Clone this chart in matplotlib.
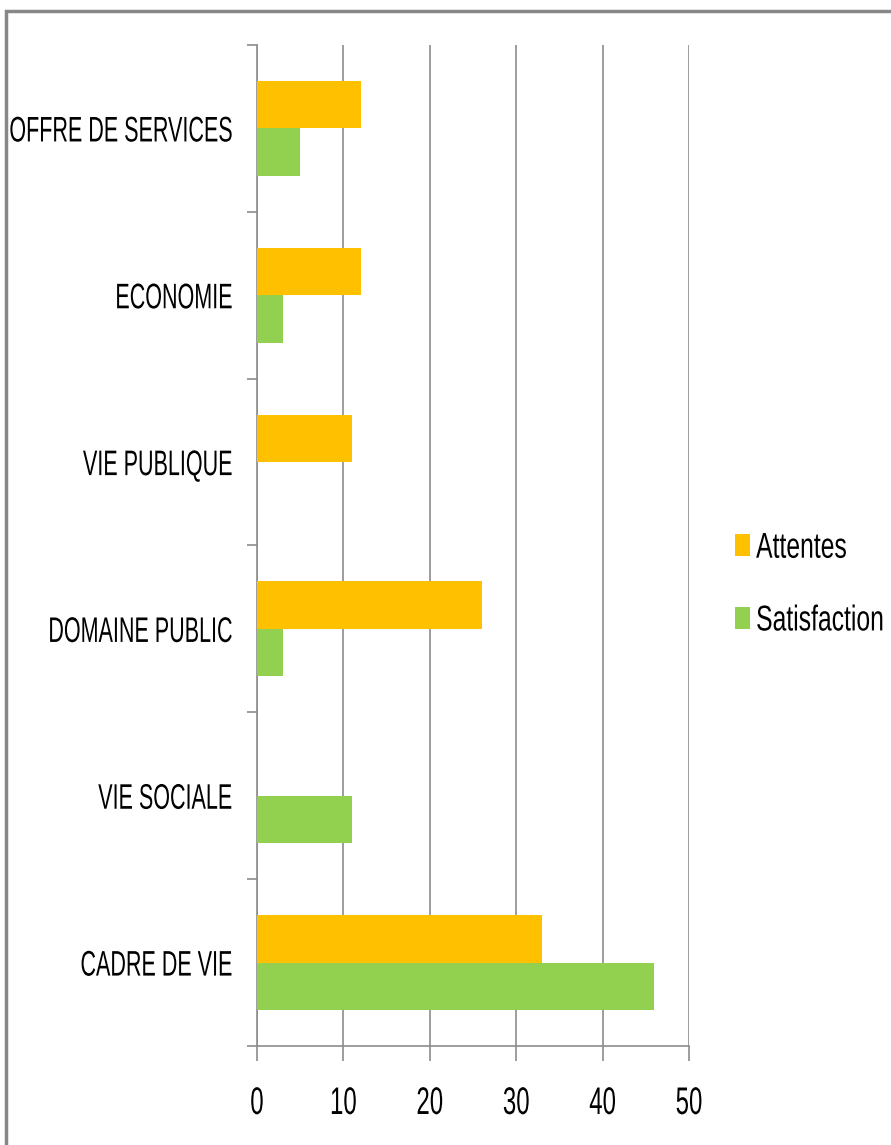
import numpy as np
import matplotlib.pyplot as plt
from matplotlib.patches import Rectangle
from matplotlib.patheffects import AbstractPathEffect
from matplotlib.transforms import Affine2D

plt.rcParams["font.family"] = ["Liberation Sans Narrow", "Liberation Sans", "DejaVu Sans"]

# ── DATA ─────────────────────────────────────────────
categories = ["CADRE DE VIE", "VIE SOCIALE", "DOMAINE PUBLIC",
              "VIE PUBLIQUE", "ECONOMIE", "OFFRE DE SERVICES"]
attentes = [33, 0, 26, 11, 12, 12]
satisfaction = [46, 11, 3, 0, 3, 5]
xticks = [0, 10, 20, 30, 40, 50]

c_att = "#FFC000"
c_sat = "#92D050"
grey = "#8C8C8C"


# the reference text looks vertically stretched (narrow font) —
# stretch glyphs in y around the middle of the capitals
class Stretch(AbstractPathEffect):
    def __init__(self, sy=1.58, mid=36):
        super().__init__()
        self.t = Affine2D().translate(0, -mid).scale(1, sy).translate(0, mid)

    def draw_path(self, renderer, gc, tpath, affine, rgbFace=None):
        renderer.draw_path(gc, tpath, self.t + affine, rgbFace)


fig = plt.figure(figsize=(8.91, 11.45), dpi=100)
ax = fig.add_axes([0.2884, 0.0865, 0.4849, 0.8742])

# outer frame of the chart area (runs off the right/bottom edge)
fig.patches.append(Rectangle((6 / 891, -0.05), 1.2, 1 - 10.5 / 1145 + 0.05,
                             transform=fig.transFigure, fill=False,
                             edgecolor="#878787", linewidth=2.5))

y = np.arange(len(categories))
h = 0.285
ax.barh(y + h / 2, attentes, height=h, color=c_att, label="Attentes", zorder=3)
ax.barh(y - h / 2, satisfaction, height=h, color=c_sat, label="Satisfaction", zorder=3)

ax.set_xlim(0, 50)
ax.set_ylim(-0.5, len(categories) - 0.5)
ax.set_xticks(xticks)
ax.set_xticklabels([str(v) for v in xticks], fontsize=17.3)
ax.set_yticks(y)
ax.set_yticklabels(categories, fontsize=15.5)
ax.set_yticks(np.arange(-0.5, len(categories)), minor=True)
ax.tick_params(axis="y", which="major", length=0, pad=18)
ax.tick_params(axis="y", which="minor", length=7, color=grey, width=1.2)
ax.tick_params(axis="x", length=11, color=grey, width=1.2, pad=22)

for t in ax.get_xticklabels():
    t.set_path_effects([Stretch(1.6)])
for t in ax.get_yticklabels():
    t.set_path_effects([Stretch(1.65)])

ax.grid(axis="x", color=grey, linewidth=1.2, zorder=0)
for s in ["top", "right"]:
    ax.spines[s].set_visible(False)
for s in ["left", "bottom"]:
    ax.spines[s].set_color(grey)
    ax.spines[s].set_linewidth(1.2)

leg = fig.legend(loc="center left", bbox_to_anchor=(0.825, 0.491), frameon=False,
                 fontsize=17.8, handlelength=0.6, handleheight=1.0,
                 handletextpad=0.25, labelspacing=1.95, borderpad=0,
                 borderaxespad=0)
for t in leg.get_texts():
    t.set_path_effects([Stretch(1.45)])

plt.savefig("out.png", dpi=100)
